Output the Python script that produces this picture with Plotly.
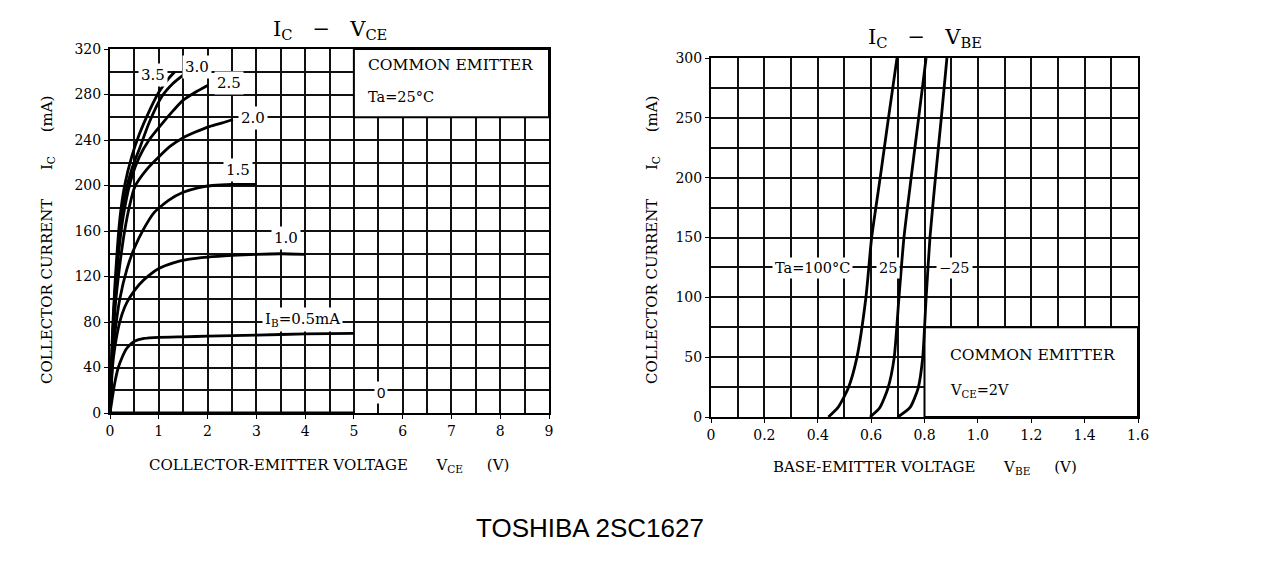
import plotly.graph_objects as go

# ---------------- data: IC - VCE (left) ----------------
ib_labels = ["0", "0.5", "1.0", "1.5", "2.0", "2.5", "3.0", "3.5"]
vce_ib0 = [0, 5]
ic_ib0 = [0, 0]
vce_ib05 = [0, 0.05, 0.1, 0.17, 0.25, 0.33, 0.41, 0.5, 0.7, 1.0, 1.5, 2.0, 3.0, 4.0, 5.0]
ic_ib05 = [0, 14, 27, 40, 49, 56, 60, 63, 65.5, 66.5, 67, 67.5, 68.5, 69.5, 70]
vce_ib10 = [0, 0.05, 0.1, 0.2, 0.3, 0.41, 0.6, 0.8, 1.0, 1.3, 1.6, 2.0, 2.5, 3.0, 3.5, 4.0]
ic_ib10 = [0, 40, 58, 80, 93, 102, 113, 121, 127, 132, 135, 137, 138.5, 139.5, 140, 139.5]
vce_ib15 = [0, 0.05, 0.1, 0.2, 0.35, 0.5, 0.68, 0.9, 1.2, 1.5, 1.8, 2.1, 2.5, 3.0]
ic_ib15 = [0, 45, 70, 100, 127, 145, 161, 176, 187, 194, 198, 200, 201, 201]
vce_ib20 = [0, 0.05, 0.1, 0.2, 0.3, 0.4, 0.51, 0.75, 1.02, 1.25, 1.5, 1.75, 2.05, 2.3, 2.52]
ic_ib20 = [0, 55, 90, 130, 160, 182, 199, 214, 226, 235, 242, 247, 252, 255, 258]
vce_ib25 = [0, 0.05, 0.1, 0.2, 0.3, 0.45, 0.6, 0.8, 1.06, 1.3, 1.5, 1.75, 2.0]
ic_ib25 = [0, 60, 100, 150, 180, 208, 225, 240, 254, 266, 275, 282, 288]
vce_ib30 = [0, 0.05, 0.1, 0.2, 0.3, 0.45, 0.61, 0.8, 1.06, 1.3, 1.5]
ic_ib30 = [0, 65, 105, 160, 190, 215, 233, 255, 278, 290, 297]
vce_ib35 = [0, 0.05, 0.1, 0.2, 0.3, 0.45, 0.6, 0.8, 1.0, 1.2, 1.33]
ic_ib35 = [0, 70, 112, 170, 200, 226, 245, 265, 282, 294, 300]

# ---------------- data: IC - VBE (right) ----------------
ta_labels = ["Ta = 100°C", "25", "−25"]
vbe_t100 = [0.44, 0.476, 0.514, 0.546, 0.58, 0.602, 0.634, 0.665, 0.697]
ic_t100 = [0, 8, 24, 49, 99, 150, 200, 250, 300]
vbe_t25 = [0.596, 0.633, 0.663, 0.686, 0.704, 0.723, 0.750, 0.778, 0.806]
ic_t25 = [0, 8, 24, 49, 99, 150, 200, 250, 300]
vbe_tm25 = [0.70, 0.746, 0.776, 0.793, 0.806, 0.8205, 0.841, 0.863, 0.884]
ic_tm25 = [0, 8, 24, 49, 99, 150, 200, 250, 300]

SERIF = "DejaVu Serif"
W, H = 1274, 562
OFF = 8  # page body margin


def px_x(p):
    return (p - OFF) / W


def px_y(p):
    return 1 - (p - OFF) / H


fig = go.Figure()

curve = dict(color="black", width=2.8)
left_sets = [(vce_ib0, ic_ib0), (vce_ib05, ic_ib05), (vce_ib10, ic_ib10), (vce_ib15, ic_ib15),
             (vce_ib20, ic_ib20), (vce_ib25, ic_ib25), (vce_ib30, ic_ib30), (vce_ib35, ic_ib35)]
for (xs, ys), name in zip(left_sets, ib_labels):
    fig.add_trace(go.Scatter(x=xs, y=ys, mode="lines", line=dict(shape="spline", smoothing=0.6, **curve),
                             name="IB=" + name, xaxis="x", yaxis="y", showlegend=False))

right_sets = [(vbe_t100, ic_t100), (vbe_t25, ic_t25), (vbe_tm25, ic_tm25)]
for (xs, ys), name in zip(right_sets, ta_labels):
    fig.add_trace(go.Scatter(x=xs, y=ys, mode="lines", line=dict(shape="spline", smoothing=0.6, **curve),
                             name=name, xaxis="x2", yaxis="y2", showlegend=False))

grid_col = "#111111"
GW = 1.5
tickfont = dict(family=SERIF, size=14, color="black")

common_axis = dict(showline=True, linecolor="black", linewidth=2, mirror=True, automargin=False,
                   showgrid=True, gridcolor=grid_col, gridwidth=GW, zeroline=False,
                   ticks="outside", ticklen=4, tickcolor="black", tickfont=tickfont)

fig.update_layout(
    width=W, height=H, margin=dict(l=0, r=0, t=0, b=0, pad=0),
    paper_bgcolor="white", plot_bgcolor="white",
    xaxis=dict(domain=[px_x(110), px_x(549)], range=[0, 9], dtick=1, anchor="y",
               minor=dict(dtick=0.5, showgrid=True, gridcolor=grid_col, gridwidth=GW), **common_axis),
    yaxis=dict(domain=[px_y(413), px_y(49)], range=[0, 320], dtick=40, anchor="x",
               minor=dict(dtick=20, showgrid=True, gridcolor=grid_col, gridwidth=GW), **common_axis),
    xaxis2=dict(domain=[px_x(711), px_x(1138)], range=[0, 1.6], anchor="y2",
                tickvals=[0, 0.2, 0.4, 0.6, 0.8, 1.0, 1.2, 1.4, 1.6],
                ticktext=["0", "0.2", "0.4", "0.6", "0.8", "1.0", "1.2", "1.4", "1.6"],
                minor=dict(dtick=0.1, showgrid=True, gridcolor=grid_col, gridwidth=GW), **common_axis),
    yaxis2=dict(domain=[px_y(417), px_y(58)], range=[0, 300], dtick=50, anchor="x2",
                minor=dict(dtick=25, showgrid=True, gridcolor=grid_col, gridwidth=GW), **common_axis),
)

# white boxes for conditions
fig.add_shape(type="rect", xref="x", yref="y", x0=5, x1=9, y0=260, y1=320,
              fillcolor="white", line=dict(color="black", width=2), layer="between")
fig.add_shape(type="rect", xref="x2", yref="y2", x0=0.8, x1=1.6, y0=0, y1=75,
              fillcolor="white", line=dict(color="black", width=2), layer="between")


def lab(x, y, text, xref="x", yref="y", size=15, family=SERIF, xanchor="center", bg="white", pad=2):
    fig.add_annotation(x=x, y=y, xref=xref, yref=yref, text=text, showarrow=False,
                       font=dict(family=family, size=size, color="black"),
                       xanchor=xanchor, yanchor="middle", bgcolor=bg, borderpad=pad)


# curve labels left
lab(0.88, 297, "3.5")
lab(1.78, 304, "3.0")
lab(2.44, 290, "2.5")
lab(2.93, 259, "2.0")
lab(2.62, 214, "1.5")
lab(3.6, 154, "1.0")
lab(3.95, 82, "I<sub>B</sub>=0.5mA")
lab(5.55, 18, "0", family="Liberation Sans", size=15)

# box texts left
lab(5.22, 306, "COMMON EMITTER", xanchor="left", bg=None, size=15.5)
lab(5.22, 278, "Ta=25°C", xanchor="left", bg=None, size=14.5)

# curve labels right
lab(0.382, 124.5, "Ta=100°C", xref="x2", yref="y2", size=14.5)
lab(0.664, 124.5, "25", xref="x2", yref="y2", size=14.5)
lab(0.914, 124.5, "−25", xref="x2", yref="y2", size=14.5)

# box texts right
lab(0.885, 52, "COMMON EMITTER", xref="x2", yref="y2", xanchor="left", bg=None, size=15.5)
lab(0.885, 22, "V<sub>CE</sub>=2V", xref="x2", yref="y2", xanchor="left", bg=None, size=14.5)

NB = "\u00a0"


def ptext(xp, yp, text, size=13, family=SERIF, angle=0):
    fig.add_annotation(x=px_x(xp), y=px_y(yp), xref="paper", yref="paper", text=text,
                       showarrow=False, textangle=angle, xanchor="center", yanchor="middle",
                       font=dict(family=family, size=size, color="black"))


# titles
ptext(330, 30, "I<sub>C</sub>" + NB * 3 + "−" + NB * 3 + "V<sub>CE</sub>", size=21)
ptext(925, 38, "I<sub>C</sub>" + NB * 3 + "−" + NB * 3 + "V<sub>BE</sub>", size=21)

# axis titles
ptext(329, 465, "COLLECTOR-EMITTER VOLTAGE" + NB * 6 + "V<sub>CE</sub>" + NB * 5 + "(V)", size=15)
ptext(925, 467, "BASE-EMITTER VOLTAGE" + NB * 6 + "V<sub>BE</sub>" + NB * 5 + "(V)", size=15)
ptext(47, 240, "COLLECTOR CURRENT" + NB * 6 + "I<sub>C</sub>" + NB * 5 + "(mA)", size=15, angle=-90)
ptext(652, 240, "COLLECTOR CURRENT" + NB * 6 + "I<sub>C</sub>" + NB * 5 + "(mA)", size=15, angle=-90)

# footer
ptext(590, 528, "TOSHIBA 2SC1627", size=26, family="Liberation Sans")

fig.write_html("out.html")
